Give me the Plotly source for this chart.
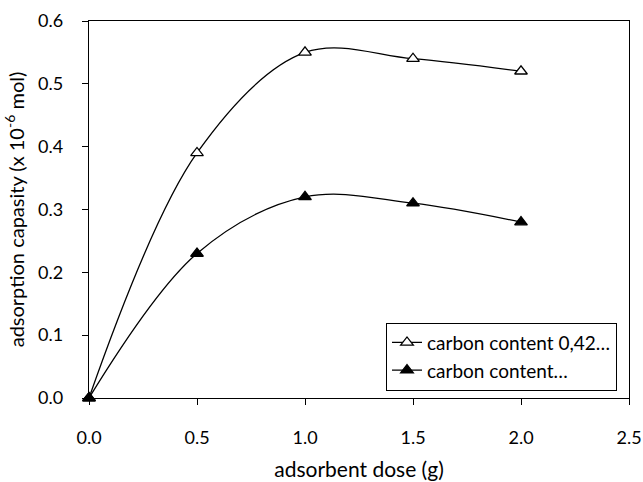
import plotly.graph_objects as go

dose = [0.0, 0.5, 1.0, 1.5, 2.0]
cap_042 = [0.0, 0.39, 0.55, 0.54, 0.52]
cap_other = [0.0, 0.23, 0.32, 0.31, 0.28]
names = ["carbon content 0,42…", "carbon content…"]

FONT = "Lato, 'Open Sans', sans-serif"

fig = go.Figure()
fig.add_trace(go.Scatter(
    x=dose, y=cap_042, name=names[0], mode="lines+markers",
    line=dict(color="black", width=1.3, shape="spline", smoothing=1.0),
    marker=dict(symbol="triangle-up", size=11, color="white", line=dict(color="black", width=1.3)),
    cliponaxis=False,
))
fig.add_trace(go.Scatter(
    x=dose, y=cap_other, name=names[1], mode="lines+markers",
    line=dict(color="black", width=1.3, shape="spline", smoothing=1.0),
    marker=dict(symbol="triangle-up", size=11, color="black", line=dict(color="black", width=1.3)),
    cliponaxis=False,
))

fig.update_layout(
    width=643, height=482,
    margin=dict(l=89, r=14, t=21, b=84),
    paper_bgcolor="white", plot_bgcolor="white",
    font=dict(family=FONT, color="black"),
    showlegend=True,
    legend=dict(
        x=0.550, y=0.200, xanchor="left", yanchor="top",
        bordercolor="black", borderwidth=1, bgcolor="white",
        font=dict(size=19, family=FONT), tracegroupgap=0,
    ),
    xaxis=dict(
        range=[0, 2.5], tickvals=[0, 0.5, 1.0, 1.5, 2.0, 2.5],
        ticktext=["0.0", "0.5", "1.0", "1.5", "2.0", "2.5"],
        ticks="outside", ticklen=6, tickwidth=1.3, tickcolor="black",
        showline=True, linecolor="black", linewidth=1.3, mirror=True,
        showgrid=False, zeroline=False, automargin=False,
        tickfont=dict(size=18), ticklabelstandoff=17,
        title=dict(text="adsorbent dose (g)", font=dict(size=21), standoff=15),
    ),
    yaxis=dict(
        range=[0, 0.6], tickvals=[0, 0.1, 0.2, 0.3, 0.4, 0.5, 0.6],
        ticktext=["0.0", "0.1", "0.2", "0.3", "0.4", "0.5", "0.6"],
        ticks="outside", ticklen=6, tickwidth=1.3, tickcolor="black",
        showline=True, linecolor="black", linewidth=1.3, mirror=True,
        showgrid=False, zeroline=False, automargin=False,
        tickfont=dict(size=18), ticklabelstandoff=15,
        title=dict(text="adsorption capasity (x 10<sup>-6</sup> mol)", font=dict(size=20), standoff=8),
    ),
)

fig.write_html(
    "out.html",
    config={"displayModeBar": False},
    post_script="document.body.style.margin='0';document.body.style.overflow='hidden';",
)
